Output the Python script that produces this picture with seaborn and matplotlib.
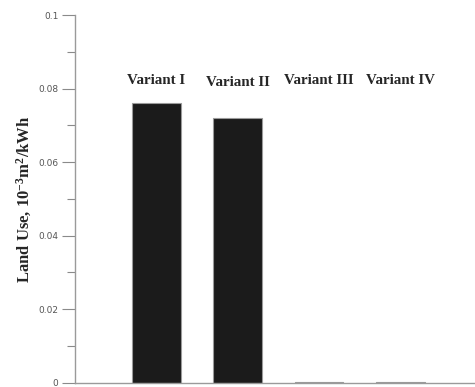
import numpy as np
import pandas as pd
import matplotlib
matplotlib.use("Agg")
import matplotlib.pyplot as plt
import seaborn as sns
from matplotlib.ticker import MultipleLocator

variants = ["Variant I", "Variant II", "Variant III", "Variant IV"]
land_use = [0.0761, 0.0719, 0.0003, 0.0003]
label_y = [0.0822, 0.0816, 0.0822, 0.0822]

df = pd.DataFrame({"variant": variants, "land_use": land_use})

sns.set_style("white")
plt.rcParams["mathtext.fontset"] = "custom"
plt.rcParams["mathtext.rm"] = "Liberation Serif:bold"
plt.rcParams["mathtext.bf"] = "Liberation Serif:bold"
plt.rcParams["mathtext.default"] = "bf"

fig = plt.figure(figsize=(4.75, 3.87), dpi=100)
ax = fig.add_axes([0.158, 0.011, 0.842, 0.950])

sns.barplot(data=df, x="variant", y="land_use", color="#1b1b1b",
            width=0.6, edgecolor="#9a9a9a", linewidth=0.8, ax=ax, saturation=1)

for i, (name, ly) in enumerate(zip(variants, label_y)):
    ax.text(i, ly, name, ha="center", va="center", fontsize=10.8,
            fontweight="bold", family="Liberation Serif")

ax.set_xlim(-1.0, 3.92)
ax.set_ylim(0, 0.1)
ax.yaxis.set_minor_locator(MultipleLocator(0.01))
ax.set_yticks([0, 0.02, 0.04, 0.06, 0.08, 0.1])
ax.set_yticklabels(["0", "0.02", "0.04", "0.06", "0.08", "0.1"])
ax.tick_params(axis="y", which="major", direction="out", length=9.5, width=0.8,
               color="#8a8a8a", labelsize=6.5, labelcolor="#555555", pad=2.5, left=True)
ax.tick_params(axis="y", which="minor", direction="out", length=6, width=0.8,
               color="#8a8a8a", left=True)
ax.set_xticks([])
ax.set_xlabel("")
ax.set_ylabel("Land Use, 10$^{-3}$m$^{2}$/kWh", fontsize=12, fontweight="bold",
              family="Liberation Serif", labelpad=3)

for side in ["top", "right"]:
    ax.spines[side].set_visible(False)
for side in ["left", "bottom"]:
    ax.spines[side].set_color("#9a9a9a")
    ax.spines[side].set_linewidth(1.0)

fig.savefig("out.png", dpi=100)
